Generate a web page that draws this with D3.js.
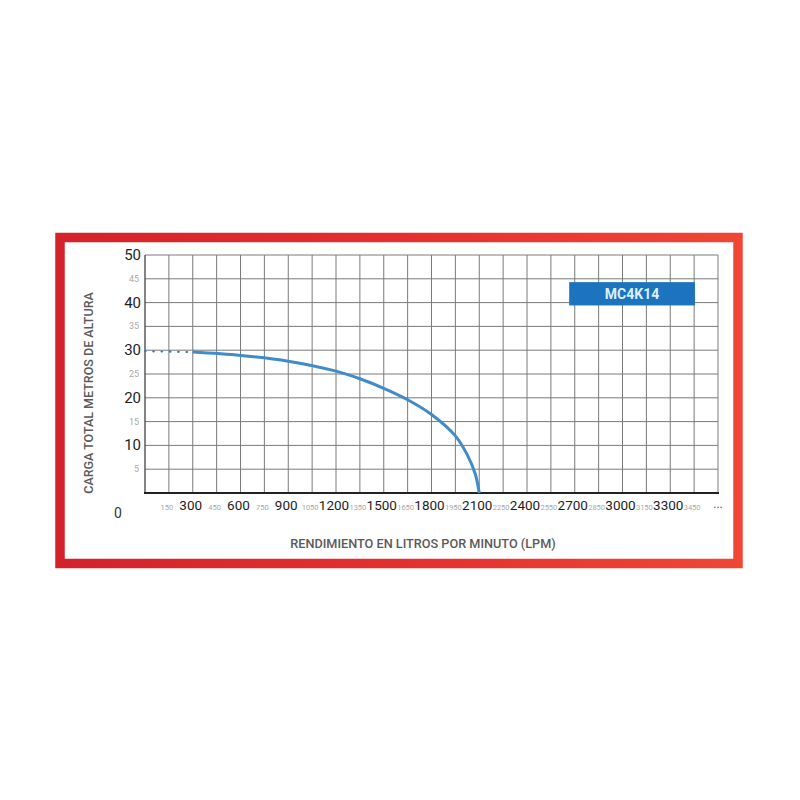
<!DOCTYPE html>
<html>
<head>
<meta charset="utf-8">
<script src="https://cdn.jsdelivr.net/npm/d3@7"></script>
<style>
  html, body { margin: 0; padding: 0; background: #fff; }
  svg { display: block; font-family: Roboto, "Open Sans", sans-serif; }
</style>
</head>
<body>
<svg id="chart" width="800" height="800"></svg>
<script>
// pump curve MC4K14, flow (LPM) vs head (m)
var flowSolid = [300, 600, 900, 1200, 1350, 1500, 1650, 1800, 1950, 2025, 2075, 2100];
var headSolid = [29.6, 28.9, 27.7, 25.6, 24.0, 22.0, 19.6, 16.5, 12.0, 8.0, 4.0, 0];

var flowDotted = [0, 300];
var headDotted = [29.8, 29.6];

var xMajor = [300, 600, 900, 1200, 1500, 1800, 2100, 2400, 2700, 3000, 3300];
var xMinor = [150, 450, 750, 1050, 1350, 1650, 1950, 2250, 2550, 2850, 3150, 3450];
var yMajor = [10, 20, 30, 40, 50];
var yMinor = [5, 15, 25, 35, 45];

var modelName = "MC4K14";
var yTitle = "CARGA TOTAL METROS DE ALTURA";
var xTitle = "RENDIMIENTO EN LITROS POR MINUTO (LPM)";

(function () {

var svg = d3.select("#chart");

var plotLeft = 145, plotRight = 718, plotTop = 255, plotBottom = 493;

var x = d3.scaleLinear().domain([0, 3600]).range([plotLeft, plotRight]);
var y = d3.scaleLinear().domain([0, 50]).range([plotBottom, plotTop]);

/* red frame with gradient */
var defs = svg.append("defs");
var grad = defs.append("linearGradient").attr("id", "frameGrad")
    .attr("x1", "0%").attr("x2", "100%").attr("y1", "0%").attr("y2", "0%");
grad.append("stop").attr("offset", "0%").attr("stop-color", "#d3222b");
grad.append("stop").attr("offset", "50%").attr("stop-color", "#e3302f");
grad.append("stop").attr("offset", "100%").attr("stop-color", "#ef4636");

svg.append("rect")
    .attr("x", 60).attr("y", 237.5)
    .attr("width", 678).attr("height", 326)
    .attr("fill", "#fff")
    .attr("stroke", "url(#frameGrad)")
    .attr("stroke-width", 9.5);

var g = svg.append("g");

/* grid */
g.selectAll("line.vgrid")
    .data(d3.range(150, 3600, 150))
    .enter().append("line")
    .attr("class", "vgrid")
    .attr("x1", function (d) { return x(d); })
    .attr("x2", function (d) { return x(d); })
    .attr("y1", y(50)).attr("y2", y(0))
    .attr("stroke", "#7a7a7a").attr("stroke-width", 1);

g.selectAll("line.hgrid")
    .data(d3.range(5, 51, 5))
    .enter().append("line")
    .attr("class", "hgrid")
    .attr("x1", x(0)).attr("x2", x(3600))
    .attr("y1", function (d) { return y(d); })
    .attr("y2", function (d) { return y(d); })
    .attr("stroke", "#7a7a7a").attr("stroke-width", 1);

// outer edges
g.append("line").attr("x1", x(3600)).attr("x2", x(3600)).attr("y1", y(50)).attr("y2", y(0))
    .attr("stroke", "#7a7a7a").attr("stroke-width", 1);
g.append("line").attr("x1", x(0)).attr("x2", x(0)).attr("y1", y(50)).attr("y2", y(0))
    .attr("stroke", "#333").attr("stroke-width", 1.2);
g.append("line").attr("x1", x(0) - 1).attr("x2", x(3600) + 1).attr("y1", y(0)).attr("y2", y(0))
    .attr("stroke", "#222").attr("stroke-width", 2);

/* model label */
g.append("rect")
    .attr("x", x(2665)).attr("y", y(44.3))
    .attr("width", x(3455) - x(2665)).attr("height", y(39.4) - y(44.3))
    .attr("fill", "#1c74bf");
g.append("text")
    .attr("x", (x(2665) + x(3455)) / 2).attr("y", y(41.85))
    .attr("text-anchor", "middle").attr("dominant-baseline", "central")
    .style("font-size", "14px").style("font-weight", "700")
    .style("fill", "#dcefff")
    .text(modelName);

/* curve */
var line = d3.line()
    .x(function (d) { return x(d[0]); })
    .y(function (d) { return y(d[1]); })
    .curve(d3.curveCatmullRom.alpha(0.5));

g.append("path")
    .datum(flowDotted.map(function (f, i) { return [f, headDotted[i]]; }))
    .attr("d", d3.line().x(function (d) { return x(d[0]); }).y(function (d) { return y(d[1]); }))
    .attr("fill", "none")
    .attr("stroke", "#3f79ad")
    .attr("stroke-width", 2.2)
    .attr("stroke-linecap", "round")
    .attr("stroke-dasharray", "0.5,7.8");

g.append("path")
    .datum(flowSolid.map(function (f, i) { return [f, headSolid[i]]; }))
    .attr("d", line)
    .attr("fill", "none")
    .attr("stroke", "#3f8cc9")
    .attr("stroke-width", 3);

/* y labels */
g.selectAll("text.ymaj")
    .data(yMajor)
    .enter().append("text")
    .attr("class", "ymaj")
    .attr("x", plotLeft - 4).attr("y", function (d) { return y(d); })
    .attr("text-anchor", "end").attr("dominant-baseline", "central")
    .style("font-size", "15px").style("fill", "#1e1e1e")
    .text(function (d) { return d; });

g.selectAll("text.ymin")
    .data(yMinor)
    .enter().append("text")
    .attr("class", "ymin")
    .attr("x", plotLeft - 6).attr("y", function (d) { return y(d); })
    .attr("text-anchor", "end").attr("dominant-baseline", "central")
    .style("font-size", "9px").style("fill", "#a8a8a8")
    .text(function (d) { return d; });

/* x labels */
g.selectAll("text.xmaj")
    .data(xMajor)
    .enter().append("text")
    .attr("class", "xmaj")
    .attr("x", function (d) { return x(d) - 2; }).attr("y", plotBottom + 17)
    .attr("text-anchor", "middle")
    .style("font-size", "13.5px").style("fill", "#1e1e1e")
    .text(function (d) { return d; });

g.selectAll("text.xmin")
    .data(xMinor)
    .enter().append("text")
    .attr("class", "xmin")
    .attr("x", function (d) { return x(d) - 2; }).attr("y", plotBottom + 17)
    .attr("text-anchor", "middle")
    .style("font-size", "7.5px").style("fill", "#a8a8a8")
    .text(function (d) { return d; });

g.append("text")
    .attr("x", x(3600)).attr("y", plotBottom + 15)
    .attr("text-anchor", "middle")
    .style("font-size", "12px").style("fill", "#555")
    .text("...");

g.append("text")
    .attr("x", 118).attr("y", plotBottom + 25)
    .attr("text-anchor", "middle")
    .style("font-size", "14px").style("fill", "#333")
    .text("0");

/* axis titles */
g.append("text")
    .attr("transform", "translate(93," + 393 + ") rotate(-90)")
    .attr("text-anchor", "middle")
    .style("font-size", "12.5px").style("font-weight", "500").style("fill", "#5a5a5a")
    .text(yTitle);

g.append("text")
    .attr("x", 423).attr("y", 548)
    .attr("text-anchor", "middle")
    .style("font-size", "12.7px").style("font-weight", "500").style("fill", "#5a5a5a")
    .text(xTitle);

})();
</script>
</body>
</html>
